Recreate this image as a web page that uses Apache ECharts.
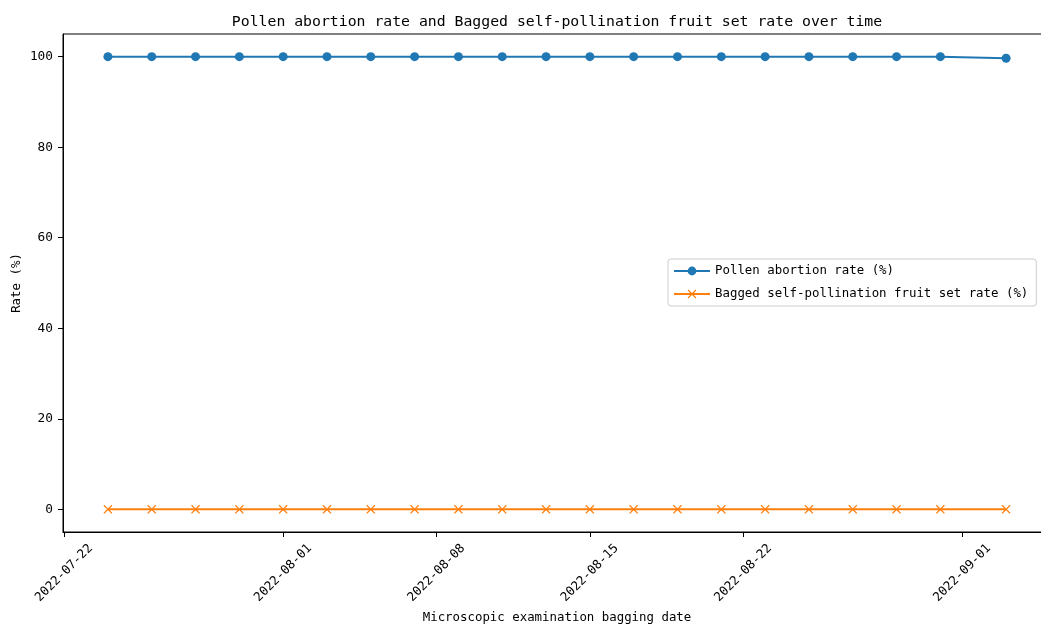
<!DOCTYPE html>
<html>
<head>
<meta charset="utf-8">
<script src="https://cdn.jsdelivr.net/npm/echarts@6/dist/echarts.min.js"></script>
<style>
  html, body { margin: 0; padding: 0; background: #fff; overflow: hidden; }
  #chart { width: 1060px; height: 625px; }
</style>
</head>
<body>
<div id="chart"></div>
<script>
// Inspection dates (bagging dates checked under the microscope)
const dates = [
  '2022-07-24', '2022-07-26', '2022-07-28', '2022-07-30', '2022-08-01',
  '2022-08-03', '2022-08-05', '2022-08-07', '2022-08-09', '2022-08-11',
  '2022-08-13', '2022-08-15', '2022-08-17', '2022-08-19', '2022-08-21',
  '2022-08-23', '2022-08-25', '2022-08-27', '2022-08-29', '2022-08-31',
  '2022-09-03'
];
// Pollen abortion rate (%)
const pollenAbortion = [
  100, 100, 100, 100, 100, 100, 100, 100, 100, 100,
  100, 100, 100, 100, 100, 100, 100, 100, 100, 100,
  99.65
];
// Bagged self-pollination fruit set rate (%)
const fruitSet = [
  0, 0, 0, 0, 0, 0, 0, 0, 0, 0,
  0, 0, 0, 0, 0, 0, 0, 0, 0, 0,
  0
];
const xTickDates = ['2022-07-22', '2022-08-01', '2022-08-08', '2022-08-15', '2022-08-22', '2022-09-01'];
const yTicks = [0, 20, 40, 60, 80, 100];

const seriesNames = ['Pollen abortion rate (%)', 'Bagged self-pollination fruit set rate (%)'];

const FONT = '"DejaVu Sans Mono", "Liberation Mono", monospace';
const toTime = s => {
  const p = s.split('-').map(Number);
  return Date.UTC(p[0], p[1] - 1, p[2]);
};
const pad2 = n => (n < 10 ? '0' : '') + n;
const fmtDate = v => {
  const d = new Date(Math.round(v));
  return d.getUTCFullYear() + '-' + pad2(d.getUTCMonth() + 1) + '-' + pad2(d.getUTCDate());
};

const tStart = toTime(dates[0]);
const tEnd = toTime(dates[dates.length - 1]);
const pad = (tEnd - tStart) * 0.05;

// filled "x" marker outline
const crossPath = 'path://M1,0L5,4L9,0L10,1L6,5L10,9L9,10L5,6L1,10L0,9L4,5L0,1Z';

const chart = echarts.init(document.getElementById('chart'), null, { renderer: 'canvas' });

chart.setOption({
  animation: false,
  backgroundColor: '#fff',
  title: {
    text: 'Pollen abortion rate and Bagged self-pollination fruit set rate over time',
    left: 552,
    top: 10,
    textAlign: 'center',
    textStyle: { fontFamily: FONT, fontSize: 14.8, fontWeight: 'normal', color: '#000' }
  },
  legend: {
    orient: 'vertical',
    left: 668,
    top: 259,
    padding: [6, 8, 6, 5],
    itemGap: 11,
    itemWidth: 36,
    itemHeight: 11,
    borderColor: '#cccccc',
    borderWidth: 1,
    borderRadius: 3,
    backgroundColor: '#fff',
    textStyle: { fontFamily: FONT, fontSize: 12.4, color: '#000' },
    data: seriesNames
  },
  grid: {
    left: 63, right: 9, top: 34, bottom: 93,
    outerBoundsMode: 'none',
    containLabel: false,
    show: true, borderColor: '#000', borderWidth: 1, backgroundColor: 'transparent'
  },
  xAxis: {
    type: 'value',
    min: tStart - pad,
    max: tEnd + pad,
    name: 'Microscopic examination bagging date',
    nameLocation: 'middle',
    nameGap: 80,
    nameMoveOverlap: false,
    nameTextStyle: { fontFamily: FONT, fontSize: 12.4, color: '#000' },
    axisLine: { onZero: false, lineStyle: { color: '#000', width: 1 } },
    axisTick: {
      show: true, length: 5, inside: false,
      lineStyle: { color: '#000' },
      customValues: xTickDates.map(toTime)
    },
    axisLabel: {
      rotate: 45,
      margin: 41,
      align: 'center',
      verticalAlign: 'middle',
      fontFamily: FONT,
      fontSize: 12.5,
      color: '#000',
      customValues: xTickDates.map(toTime),
      formatter: fmtDate
    },
    splitLine: { show: false }
  },
  yAxis: {
    type: 'value',
    min: -5,
    max: 105,
    name: 'Rate (%)',
    nameLocation: 'middle',
    nameGap: 40,
    nameMoveOverlap: false,
    nameTextStyle: { fontFamily: FONT, fontSize: 12.4, color: '#000' },
    axisLine: { show: true, onZero: false, lineStyle: { color: '#000', width: 1 } },
    axisTick: {
      show: true, length: 5, inside: false,
      lineStyle: { color: '#000' },
      customValues: yTicks
    },
    axisLabel: {
      margin: 10,
      fontFamily: FONT,
      fontSize: 12.8,
      color: '#000',
      customValues: yTicks
    },
    splitLine: { show: false }
  },
  series: [
    {
      name: seriesNames[0],
      type: 'line',
      data: dates.map((d, i) => [toTime(d), pollenAbortion[i]]),
      symbol: 'circle',
      symbolSize: 9,
      showAllSymbol: true,
      lineStyle: { color: '#1f77b4', width: 2 },
      itemStyle: { color: '#1f77b4' },
      emphasis: { disabled: true }
    },
    {
      name: seriesNames[1],
      type: 'line',
      data: dates.map((d, i) => [toTime(d), fruitSet[i]]),
      symbol: crossPath,
      symbolSize: 9,
      showAllSymbol: true,
      lineStyle: { color: '#ff7f0e', width: 2 },
      itemStyle: { color: '#ff7f0e' },
      emphasis: { disabled: true }
    }
  ]
});
</script>
</body>
</html>
